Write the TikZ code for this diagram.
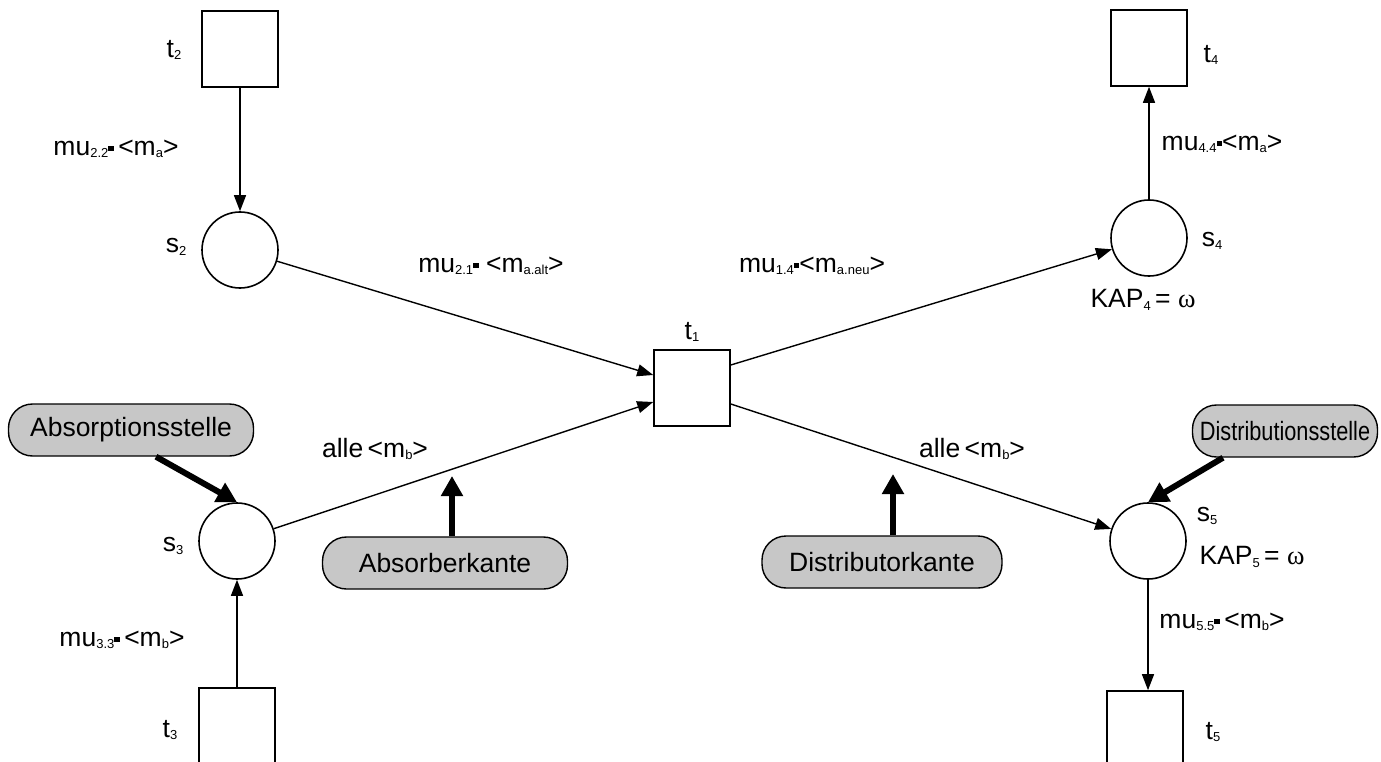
\documentclass[tikz,border=0pt]{standalone}
\usepackage{fontspec}
\setmainfont{Liberation Sans}
\newfontfamily\omegafont{Liberation Serif}
\usetikzlibrary{arrows.meta,calc}

% lowered index text and the small multiplication square
\newcommand\lo[1]{\raisebox{-2.5pt}{\fontsize{13}{13}\selectfont #1}}
\newcommand\sq{\rule[4pt]{5.5pt}{5.5pt}}
\newcommand\om{{\omegafont ω}}

\tikzset{
  place/.style={circle, draw, line width=1.6pt, minimum size=76pt, inner sep=0pt},
  trans/.style={rectangle, draw, line width=1.6pt, minimum size=76pt, inner sep=0pt},
  arc/.style={line width=1.4pt, -{Triangle[length=16pt,width=12pt]}},
  hint/.style={line width=6pt, -{Triangle[length=20pt,width=21pt]}},
  pill/.style={draw, line width=1.4pt, fill=black!22, rounded corners=24pt,
    minimum height=52pt, inner sep=0pt},
  lbl/.style={inner sep=0pt}
}

\begin{document}
\begin{tikzpicture}[x=1pt, y=-1pt, font=\fontsize{26.5}{30}\selectfont]
\useasboundingbox (0,0) rectangle (1381,762);
\clip (0,0) rectangle (1381,762);

% places and transitions
\node[trans] (t2) at (240,49) {};
\node[place] (s2) at (240,250) {};
\node[trans] (t1) at (692,388) {};
\node[place] (s3) at (237,541) {};
\node[trans] (t3) at (237,726) {};
\node[place] (s4) at (1149,238) {};
\node[trans] (t4) at (1149,48) {};
\node[place] (s5) at (1148,541) {};
\node[trans] (t5) at (1145,729) {};

% names
\node[lbl] (lt2) at (174,50) {t\lo{2}};
\node[lbl] (ls2) at (176,247) {s\lo{2}};
\node[lbl] (lt1) at (692,332) {t\lo{1}};
\node[lbl] (ls3) at (173,546) {s\lo{3}};
\node[lbl] (lt3) at (170,730) {t\lo{3}};
\node[lbl] (lt4) at (1211,55) {t\lo{4}};
\node[lbl] (ls4) at (1212,241) {s\lo{4}};
\node[lbl] (lk4) at (1143,300) {KAP\lo{4}\,= \om};
\node[lbl] (ls5) at (1207,516) {s\lo{5}};
\node[lbl] (lk5) at (1252,557) {KAP\lo{5}\,= \om};
\node[lbl] (lt5) at (1213,732) {t\lo{5}};

% arc inscriptions
\node[lbl] (m22) at (116,149) {mu\lo{2.2}\sq\,<m\lo{a}>};
\node[lbl] (m21) at (491,266) {mu\lo{2.1}\sq\ <m\lo{a.alt}>};
\node[lbl] (m14) at (812,266) {mu\lo{1.4}\sq<m\lo{a.neu}>};
\node[lbl] (m44) at (1222,144) {mu\lo{4.4}\sq<m\lo{a}>};
\node[lbl] (m33) at (122,640) {mu\lo{3.3}\sq\,<m\lo{b}>};
\node[lbl] (m55) at (1222,622) {mu\lo{5.5}\sq\,<m\lo{b}>};
\node[lbl] (al) at (375,449) {alle\,<m\lo{b}>};
\node[lbl] (ar) at (972,449) {alle\,<m\lo{b}>};

% arcs of the net
\draw[arc] (t2.south) -- (s2.north);
\draw[arc] (s2) -- ($(t1.west)+(0,-13)$);
\draw[arc] (s3) -- ($(t1.west)+(0,14)$);
\draw[arc] (t3.north) -- (s3.south);
\draw[arc] ($(t1.east)+(0,-23)$) -- (s4);
\draw[arc] ($(t1.east)+(0,16)$) -- (s5);
\draw[arc] (s4.north) -- (t4.south);
\draw[arc] (s5.south) -- (s5.south |- t5.north);

% explanatory callouts
\node[pill, minimum width=245pt] (abs) at (131,430) {Absorptionsstelle};
\node[pill, minimum width=185pt] (dis) at (1285,431) {\scalebox{0.82}[1]{Distributionsstelle}};
\node[pill, minimum width=245pt] (absk) at (445,563) {Absorberkante};
\node[pill, minimum width=240pt] (disk) at (882,562) {Distributorkante};

\coordinate (absktip) at (452,476);
\coordinate (disktip) at (893,474);
\draw[hint] ($(abs.south)+(25,0)$) -- (s3.north);
\draw[hint] ($(dis.south)+(-62,0)$) -- (s5.north);
\draw[hint] (absktip |- absk.north) -- (absktip);
\draw[hint] (disktip |- disk.north) -- (disktip);
\end{tikzpicture}
\end{document}
